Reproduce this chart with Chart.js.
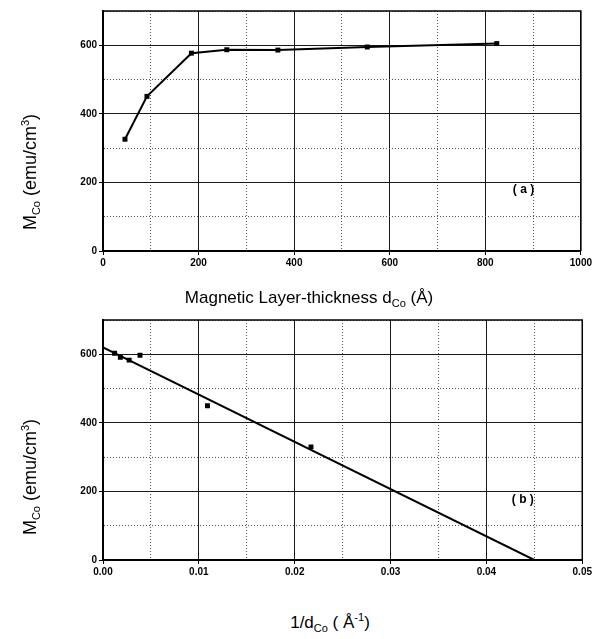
<!DOCTYPE html>
<html>
<head>
<meta charset="utf-8">
<script src="https://cdn.jsdelivr.net/npm/chart.js@4/dist/chart.umd.min.js"></script>
<style>
  html, body { margin:0; padding:0; background:#fff; }
  #wrap { position:relative; width:594px; height:639px; overflow:hidden; font-family:'Liberation Sans', Arial, sans-serif; color:#000; }
  canvas { position:absolute; left:0; }
  .t { position:absolute; white-space:nowrap; font-size:17px; line-height:20px; }
  .t sub { font-size:11px; vertical-align:-4px; line-height:0; }
  .t sup { font-size:11px; vertical-align:7px; line-height:0; }
  .xt { transform:translateX(-50%); }
  .yt { transform:translate(-50%,-50%) rotate(-90deg); font-size:18px; }
</style>
</head>
<body>
<div id="wrap">
  <canvas id="ca" width="594" height="282" style="top:0;width:594px;height:282px"></canvas>
  <canvas id="cb" width="594" height="290" style="top:300px;width:594px;height:290px"></canvas>
  <div class="t yt" style="left:30px;top:172px">M<sub>Co</sub> (emu/cm<sup>3</sup>)</div>
  <div class="t xt" style="left:309px;top:288px">Magnetic Layer-thickness d<sub>Co</sub> (Å)</div>
  <div class="t yt" style="left:30px;top:477px">M<sub>Co</sub> (emu/cm<sup>3</sup>)</div>
  <div class="t xt" style="left:330px;top:613px">1/d<sub>Co</sub> ( Å<sup>-1</sup>)</div>
</div>
<script>
// ---- data ----
const thicknessA = [46, 92, 185, 259, 366, 553, 824];        // d_Co (Å)
const magA       = [326, 451, 577, 587, 586, 595, 605];       // M_Co (emu/cm^3)
const invThicknessB = [0.00121, 0.00181, 0.00273, 0.00386, 0.0109, 0.0217]; // 1/d_Co
const magB          = [603, 591, 583, 597, 450, 330];
const fitX = [0, 0.045];
const fitY = [620, 0];
const yTickLabels  = [0, 200, 400, 600];
const xTickLabelsA = [0, 200, 400, 600, 800, 1000];
const xTickLabelsB = ['0.00', '0.01', '0.02', '0.03', '0.04', '0.05'];
const panelLabels = ['( a )', '( b )'];

const tickFont = { family: "'Liberation Sans', Arial, sans-serif", size: 10, weight: 'bold' };

const framePlugin = {
  id: 'frame',
  afterDraw(chart, args, opts) {
    const { ctx, chartArea: a } = chart;
    ctx.save();
    ctx.strokeStyle = '#000';
    ctx.lineWidth = 1.5;
    ctx.beginPath();
    ctx.moveTo(a.left, a.top);
    ctx.lineTo(a.right, a.top);
    ctx.lineTo(a.right, a.bottom);
    ctx.stroke();
    const px = chart.scales.x.getPixelForValue(opts.labelX);
    const py = chart.scales.y.getPixelForValue(opts.labelY);
    ctx.fillStyle = '#000';
    ctx.font = "bold 12px 'Liberation Sans', Arial, sans-serif";
    ctx.textAlign = 'center';
    ctx.textBaseline = 'middle';
    ctx.fillText(opts.label, px, py);
    ctx.restore();
  }
};

function makeScales(xMin, xMax, xStep, isMajorX, xLabel, xHeight) {
  const isMajorY = v => Math.round(v / 100) % 2 === 0;
  return {
    x: {
      type: 'linear', min: xMin, max: xMax,
      afterFit: s => { s.height = xHeight; },
      ticks: {
        stepSize: xStep, autoSkip: false, maxRotation: 0, minRotation: 0,
        font: tickFont, color: '#000', padding: 2,
        callback: v => isMajorX(v) ? xLabel(v) : ''
      },
      grid: {
        color: c => (c.tick && isMajorX(c.tick.value)) ? '#1a1a1a' : '#555',
        lineWidth: 1,
        tickLength: 4,
        tickColor: c => (c.tick && isMajorX(c.tick.value)) ? '#000' : 'rgba(0,0,0,0)'
      },
      border: {
        display: true, color: '#000', width: 2,
        dash: c => (c.tick && !isMajorX(c.tick.value)) ? [1, 2] : []
      }
    },
    y: {
      type: 'linear', min: 0, max: 700,
      afterFit: s => { s.width = 103; },
      ticks: {
        stepSize: 100, autoSkip: false, font: tickFont, color: '#000', padding: 2,
        callback: v => (yTickLabels.includes(v)) ? String(v) : ''
      },
      grid: {
        color: c => (c.tick && isMajorY(c.tick.value)) ? '#1a1a1a' : '#555',
        lineWidth: 1,
        tickLength: 4,
        tickColor: c => (c.tick && yTickLabels.includes(c.tick.value)) ? '#000' : 'rgba(0,0,0,0)'
      },
      border: {
        display: true, color: '#000', width: 2,
        dash: c => (c.tick && !isMajorY(c.tick.value)) ? [1, 2] : []
      }
    }
  };
}

const baseOpts = {
  responsive: false, animation: false, devicePixelRatio: 1,
  plugins: { legend: { display: false }, tooltip: { enabled: false } }
};

// Panel (a)
new Chart(document.getElementById('ca'), {
  type: 'scatter',
  data: {
    datasets: [{
      data: thicknessA.map((x, i) => ({ x, y: magA[i] })),
      showLine: true, borderColor: '#000', borderWidth: 2,
      pointStyle: 'rect', pointRadius: 3.5, pointBackgroundColor: '#000', pointBorderWidth: 0
    }]
  },
  options: Object.assign({}, baseOpts, {
    layout: { padding: { top: 11, right: 11, left: 0, bottom: 0 } },
    scales: makeScales(0, 1000, 100,
      v => Math.round(v / 100) % 2 === 0,
      v => xTickLabelsA.includes(v) ? String(v) : '', 31),
    plugins: Object.assign({}, baseOpts.plugins, {
      frame: { label: panelLabels[0], labelX: 880, labelY: 178 }
    })
  }),
  plugins: [framePlugin]
});

// Panel (b)
new Chart(document.getElementById('cb'), {
  type: 'scatter',
  data: {
    datasets: [{
      data: invThicknessB.map((x, i) => ({ x, y: magB[i] })),
      showLine: false,
      pointStyle: 'rect', pointRadius: 3.5, pointBackgroundColor: '#000', pointBorderWidth: 0
    }, {
      data: fitX.map((x, i) => ({ x, y: fitY[i] })),
      showLine: true, borderColor: '#000', borderWidth: 2, pointRadius: 0
    }]
  },
  options: Object.assign({}, baseOpts, {
    layout: { padding: { top: 20, right: 11, left: 0, bottom: 0 } },
    scales: makeScales(0, 0.05, 0.005,
      v => Math.round(v / 0.005) % 2 === 0,
      v => xTickLabelsB[Math.round(v / 0.01)] || '', 30),
    plugins: Object.assign({}, baseOpts.plugins, {
      frame: { label: panelLabels[1], labelX: 0.0438, labelY: 175 }
    })
  }),
  plugins: [framePlugin]
});
</script>
</body>
</html>
